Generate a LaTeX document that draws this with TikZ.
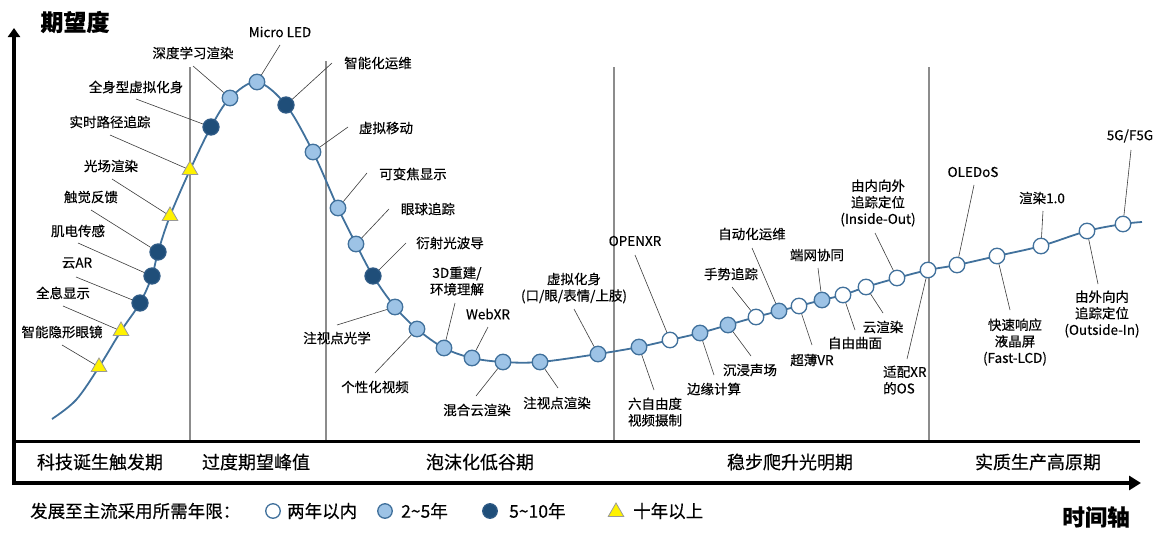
\documentclass[tikz,border=0pt]{standalone}
\usepackage{fontspec}
\setmainfont{Noto Sans CJK SC}[FakeBold=0.35]
\usepackage{tikz}
\usetikzlibrary{shapes.geometric, arrows.meta, backgrounds}
\definecolor{curveblue}{HTML}{41719C}
\definecolor{lightblue}{HTML}{9DC3E6}
\definecolor{darkblue}{HTML}{1F4E79}
\definecolor{darkedge}{HTML}{2E5A85}
\definecolor{sepgray}{HTML}{8C8C8C}
\definecolor{leadgray}{HTML}{3A3A3A}

\tikzset{
  mk/.style={circle, draw=curveblue, line width=1.3pt, minimum size=15.5pt, inner sep=0pt},
  dotwhite/.style={mk, fill=white},
  dotlight/.style={mk, fill=lightblue},
  dotdark/.style={mk, draw=darkedge, fill=darkblue, minimum size=16pt},
  tri/.style={regular polygon, regular polygon sides=3, draw=gray!80, fill=yellow, line width=0.8pt, minimum size=18pt, inner sep=0pt},
  lbl/.style={font=\fontsize{13.5}{16.5}\selectfont, align=center, inner sep=0pt},
  lead/.style={draw=leadgray, line width=0.6pt},
  sepline/.style={draw=sepgray, line width=2pt},
  phase/.style={font=\fontsize{18}{20}\selectfont, inner sep=0pt},
  legendtxt/.style={font=\fontsize{17.5}{20}\selectfont, anchor=west, inner sep=0pt}
}

\begin{document}
\begin{tikzpicture}[x=1pt, y=-1pt]
		\useasboundingbox (0,0) rectangle (1165,546);
		% axes
		\draw[line width=3.3pt, -{Triangle[length=9pt,width=12pt]}] (14,485) coordinate (yo) -- (14,28) coordinate (ytop);
		\draw[line width=4pt, -{Triangle[length=12pt,width=14pt]}] (12,483) coordinate (xo) -- (1141,483) coordinate (xend);
		\draw[line width=2.2pt] (12,441.5) coordinate (bl) -- (1140,441.5) coordinate (br);
		\node[font=\fontsize{23}{25}\selectfont\bfseries, inner sep=0pt] (ylab) at (75,22) {期望度};
		\node[font=\fontsize{22.5}{25}\selectfont\bfseries, inner sep=0pt] (xlab) at (1096,517) {时间轴};
		
		% phases
		\node[phase] (ph1) at (100,462) {科技诞生触发期};
		\node[phase] (ph2) at (256,462) {过度期望峰值};
		\node[phase] (ph3) at (480,462) {泡沫化低谷期};
		\node[phase] (ph4) at (790,462) {稳步爬升光明期};
		\node[phase] (ph5) at (1038,462) {实质生产高原期};
		
		% markers
		\node[tri] (m1) at (99,367) {};
		\node[tri] (m2) at (121,331) {};
		\node[dotdark] (m3) at (140,303) {};
		\node[dotdark] (m4) at (152,276) {};
		\node[dotdark] (m5) at (158,252) {};
		\node[tri] (m6) at (170,216) {};
		\node[tri] (m7) at (190,170) {};
		\node[dotdark] (m8) at (211,127) {};
		\node[dotlight] (m9) at (230,98) {};
		\node[dotlight] (m10) at (257,82) {};
		\node[dotdark] (m11) at (286,105) {};
		\node[dotlight] (m12) at (313,152) {};
		\node[dotlight] (m13) at (338,208) {};
		\node[dotlight] (m14) at (356,244) {};
		\node[dotdark] (m15) at (373,276) {};
		\node[dotlight] (m16) at (395,307) {};
		\node[dotlight] (m17) at (417,329) {};
		\node[dotlight] (m18) at (444,348) {};
		\node[dotlight] (m19) at (472,358) {};
		\node[dotlight] (m20) at (503,362) {};
		\node[dotlight] (m21) at (540,362) {};
		\node[dotlight] (m22) at (598,354) {};
		\node[dotlight] (m23) at (639,347) {};
		\node[dotwhite] (m24) at (670,340) {};
		\node[dotlight] (m25) at (700,333) {};
		\node[dotlight] (m26) at (728,325) {};
		\node[dotwhite] (m27) at (756,317) {};
		\node[dotlight] (m28) at (779,311) {};
		\node[dotwhite] (m29) at (799,306) {};
		\node[dotlight] (m30) at (822,300) {};
		\node[dotwhite] (m31) at (843,295) {};
		\node[dotwhite] (m32) at (866,287) {};
		\node[dotwhite] (m33) at (897,278) {};
		\node[dotwhite] (m34) at (928,270) {};
		\node[dotwhite] (m35) at (957,265) {};
		\node[dotwhite] (m36) at (997,256) {};
		\node[dotwhite] (m37) at (1041,246) {};
		\node[dotwhite] (m38) at (1087,231) {};
		\node[dotwhite] (m39) at (1123,224) {};
		
		\begin{scope}[on background layer]
		\draw[sepline] (190,67) coordinate (s1) -- (190,441) coordinate (s1b);
		\draw[sepline] (326,61) coordinate (s2) -- (326,441) coordinate (s2b);
		\draw[sepline] (614,67) coordinate (s3) -- (614,441) coordinate (s3b);
		\draw[sepline] (929,67) coordinate (s4) -- (929,441) coordinate (s4b);
		\draw[curveblue, line width=1.8pt] plot[smooth, tension=0.55] coordinates {(52,419) (76,400)
			(m1.center) (m2.center) (m3.center) (m4.center) (m5.center) (m6.center) (m7.center) (m8.center)
			(m9.center) (m10.center) (m11.center) (m12.center) (m13.center) (m14.center) (m15.center)
			(m16.center) (m17.center) (m18.center) (m19.center) (m20.center) (m21.center) (m22.center)
			(m23.center) (m24.center) (m25.center) (m26.center) (m27.center) (m28.center) (m29.center)
			(m30.center) (m31.center) (m32.center) (m33.center) (m34.center) (m35.center) (m36.center)
			(m37.center) (m38.center) (m39.center) (1142,222)};
		\end{scope}
		
		% labels
		\node[lbl] (t1) at (62,332) {智能隐形眼镜};
		\node[lbl] (t2) at (63,293) {全息显示};
		\node[lbl] (t3) at (77,263) {云AR};
		\node[lbl] (t4) at (78,231) {肌电传感};
		\node[lbl] (t5) at (91,197) {触觉反馈};
		\node[lbl] (t6) at (111,166) {光场渲染};
		\node[lbl] (t7) at (110,122) {实时路径追踪};
		\node[lbl] (t8) at (136,87) {全身型虚拟化身};
		\node[lbl] (t9) at (193,53) {深度学习渲染};
		\node[lbl] (t10) at (280,32) {Micro LED};
		\node[lbl] (t11) at (378,63) {智能化运维};
		\node[lbl] (t12) at (386,128) {虚拟移动};
		\node[lbl] (t13) at (413,174) {可变焦显示};
		\node[lbl] (t14) at (428,209) {眼球追踪};
		\node[lbl] (t15) at (450,243) {衍射光波导};
		\node[lbl] (t16) at (337,338) {注视点光学};
		\node[lbl] (t17) at (375,387) {个性化视频};
		\node[lbl] (t18) at (457,281) {3D重建/\\环境理解};
		\node[lbl] (t19) at (488,314) {WebXR};
		\node[lbl] (t20) at (477,410) {混合云渲染};
		\node[lbl] (t21) at (557,403) {注视点渲染};
		\node[lbl] (t22) at (574,288) {虚拟化身\\(口/眼/表情/上肢)};
		\node[lbl] (t23) at (655,412) {六自由度\\视频摄制};
		\node[lbl] (t24) at (635,241) {OPENXR};
		\node[lbl] (t25) at (714,389) {边缘计算};
		\node[lbl] (t26) at (750,370) {沉浸声场};
		\node[lbl] (t27) at (731,274) {手势追踪};
		\node[lbl] (t28) at (752,234) {自动化运维};
		\node[lbl] (t29) at (812,360) {超薄VR};
		\node[lbl] (t30) at (817,255) {端网协同};
		\node[lbl] (t31) at (855,343) {自由曲面};
		\node[lbl] (t32) at (883,327) {云渲染};
		\node[lbl] (t33) at (878,203) {由内向外\\追踪定位\\(Inside-Out)};
		\node[lbl, align=left, anchor=west] (t34) at (883,380) {适配XR\\的OS};
		\node[lbl] (t35) at (973,172) {OLEDoS};
		\node[lbl] (t36) at (1015,342) {快速响应\\液晶屏\\(Fast-LCD)};
		\node[lbl] (t37) at (1042,198) {渲染1.0};
		\node[lbl] (t38) at (1102,314) {由外向内\\追踪定位\\(Outside-In)};
		\node[lbl] (t39) at (1130,136) {5G/F5G};
		
		% leaders
		\draw[lead] (62,345) coordinate (c1) -- (m1);
		\draw[lead] (63,306) coordinate (c2) -- (m2);
		\draw[lead] (76,277) coordinate (c3) -- (m3);
		\draw[lead] (78,243) coordinate (c4) -- (m4);
		\draw[lead] (91,210) coordinate (c5) -- (m5);
		\draw[lead] (112,179) coordinate (c6) -- (m6);
		\draw[lead] (110,135) coordinate (c7) -- (m7);
		\draw[lead] (136,99) coordinate (c8) -- (m8);
		\draw[lead] (193,66) coordinate (c9) -- (m9);
		\draw[lead] (280,45) coordinate (c10) -- (m10);
		\draw[lead] (332,63) coordinate (c11) -- (m11);
		\draw[lead] (348,127) coordinate (c12) -- (m12);
		\draw[lead] (367,173) coordinate (c13) -- (m13);
		\draw[lead] (389,209) coordinate (c14) -- (m14);
		\draw[lead] (406,243) coordinate (c15) -- (m15);
		\draw[lead] (337,325) coordinate (c16) -- (m16);
		\draw[lead] (375,373) coordinate (c17) -- (m17);
		\draw[lead] (455,303) coordinate (c18) -- (m18);
		\draw[lead] (488,327) coordinate (c19) -- (m19);
		\draw[lead] (476,396) coordinate (c20) -- (m20);
		\draw[lead] (558,388) coordinate (c21) -- (m21);
		\draw[lead] (574,309) coordinate (c22) -- (m22);
		\draw[lead] (654,390) coordinate (c23) -- (m23);
		\draw[lead] (635,255) coordinate (c24) -- (m24);
		\draw[lead] (714,375) coordinate (c25) -- (m25);
		\draw[lead] (751,356) coordinate (c26) -- (m26);
		\draw[lead] (732,287) coordinate (c27) -- (m27);
		\draw[lead] (752,248) coordinate (c28) -- (m28);
		\draw[lead] (812,345) coordinate (c29) -- (m29);
		\draw[lead] (818,268) coordinate (c30) -- (m30);
		\draw[lead] (855,330) coordinate (c31) -- (m31);
		\draw[lead] (883,313) coordinate (c32) -- (m32);
		\draw[lead] (875,233) coordinate (c33) -- (m33);
		\draw[lead] (907,359) coordinate (c34) -- (m34);
		\draw[lead] (974,185) coordinate (c35) -- (m35);
		\draw[lead] (1010,310) coordinate (c36) -- (m36);
		\draw[lead] (1043,211) coordinate (c37) -- (m37);
		\draw[lead] (1098,284) coordinate (c38) -- (m38);
		\draw[lead] (1131,150) coordinate (c39) -- (m39);
		
		% legend
		\node[legendtxt] (lg0) at (30,511) {发展至主流采用所需年限：};
		\node[dotwhite, minimum size=14.5pt] (lg1) at (273,511) {};
		\node[legendtxt] (lgt1) at (287,511) {两年以内};
		\node[dotlight, minimum size=14.5pt] (lg2) at (385,511) {};
		\node[legendtxt] (lgt2) at (401,511) {2\textasciitilde 5年};
		\node[dotdark, minimum size=14.5pt] (lg3) at (490,511) {};
		\node[legendtxt] (lgt3) at (509,511) {5\textasciitilde 10年};
		\node[tri] (lg4) at (616,512) {};
		\node[legendtxt] (lgt4) at (633,511) {十年以上};
\end{tikzpicture}
\end{document}
